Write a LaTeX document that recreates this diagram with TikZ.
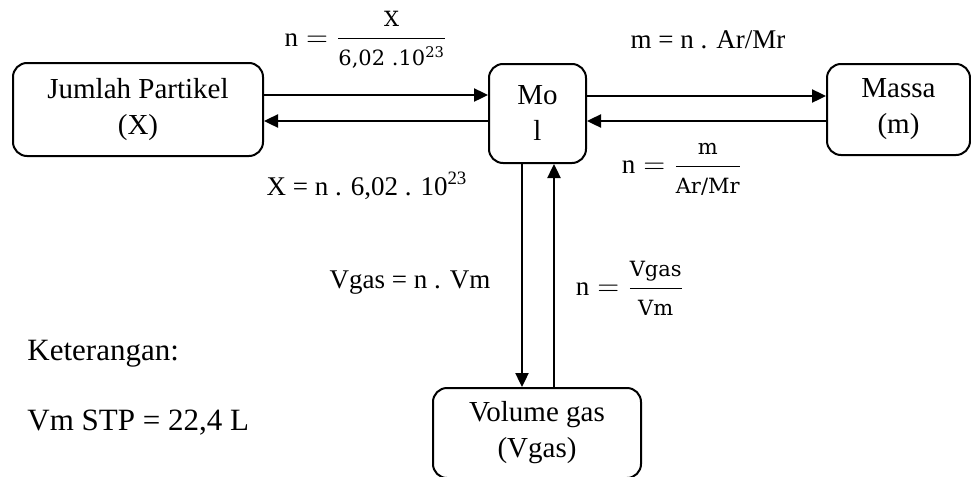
\documentclass[tikz,border=0pt]{standalone}
\usepackage{fontspec}
\usepackage{amsmath}
\setmainfont{Liberation Serif}
\newfontfamily\fracfont{DejaVu Serif}
\usetikzlibrary{arrows.meta}
\newcommand{\fracpart}[1]{\text{\fracfont\fontsize{10.5}{12}\selectfont #1}}
\newcommand{\nfrac}[2]{$\text{n} = \dfrac{\fracpart{#1}}{\fracpart{#2}}$}
\begin{document}
\begin{tikzpicture}[x=0.5pt, y=-0.5pt, font=\fontsize{14.5}{18}\selectfont,
  box/.style={draw, line width=1pt, rounded corners=7pt, align=center, inner sep=0pt},
  arr/.style={line width=1.2pt, -{Triangle[length=7pt,width=6.5pt]}},
  lbl/.style={inner sep=0pt, font=\fontsize{13.5}{16}\selectfont}]
  \useasboundingbox (0,0) rectangle (971,477);
  % boxes
  \node[box, minimum width=125pt, minimum height=46.5pt] (jp) at (138,109.5) {Jumlah Partikel\\(X)};
  \node[box, minimum width=48.5pt, minimum height=49.5pt] (mol) at (537.5,113.5) {Mo\\l};
  \node[box, minimum width=71.5pt, minimum height=45.5pt] (massa) at (898.5,109.5) {Massa\\(m)};
  \node[box, minimum width=104pt, minimum height=45pt] (vol) at (537,433) {Volume gas\\(Vgas)};
  % arrows
  \draw[arr] (jp.east |- 0,95) -- (mol.west |- 0,95);
  \draw[arr] (mol.west |- 0,121) -- (jp.east |- 0,121);
  \draw[arr] (mol.east |- 0,96) -- (massa.west |- 0,96);
  \draw[arr] (massa.west |- 0,121) -- (mol.east |- 0,121);
  \draw[arr] (mol.south -| 522,0) -- (vol.north -| 522,0);
  \draw[arr] (vol.north -| 554,0) -- (mol.south -| 554,0);
  % labels
  \node[lbl] (nx) at (366,40) {\nfrac{X}{6,02 .10\textsuperscript{23}}};
  \node[lbl, anchor=base] (mn) at (708,48) {m = n . Ar/Mr};
  \node[lbl, anchor=base] (xn) at (367,195) {X = n . 6,02 . 10\textsuperscript{23}};
  \node[lbl] (nm) at (682,169) {\nfrac{m}{Ar/Mr}};
  \node[lbl, anchor=base] (vn) at (410,288) {Vgas = n . Vm};
  \node[lbl] (nv) at (630,288) {\nfrac{Vgas}{Vm}};
  \node[inner sep=0pt, anchor=base west, font=\fontsize{15.5}{18}\selectfont] (ket) at (27,360) {Keterangan:};
  \node[inner sep=0pt, anchor=base west, font=\fontsize{15.5}{18}\selectfont] (stp) at (27,430) {Vm STP = 22,4 L};
\end{tikzpicture}
\end{document}
